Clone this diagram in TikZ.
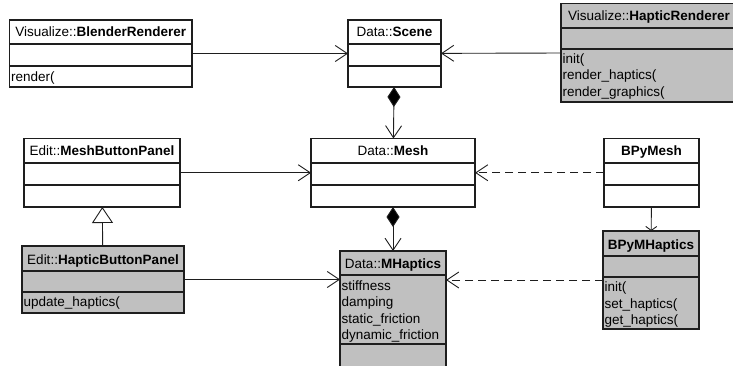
\documentclass[tikz,border=0pt]{standalone}
\usepackage{fontspec}
\setmainfont{Liberation Sans}
\usetikzlibrary{arrows.meta,fit}

\definecolor{classgray}{RGB}{192,192,192}
\definecolor{inkline}{RGB}{30,30,30}

\tikzset{
  frame/.style={draw=inkline, line width=1.1pt, inner sep=0pt, outer sep=0pt},
  divider/.style={draw=inkline, line width=1.1pt},
  classname/.style={anchor=base, inner sep=0pt, font=\fontsize{13.5}{16}\selectfont},
  member/.style={anchor=base west, inner sep=0pt, font=\fontsize{13.5}{16}\selectfont},
  link/.style={draw=inkline, line width=0.9pt},
  navigable/.style={-{Straight Barb[length=12pt,width=16pt,line width=0.9pt]}},
  smallnav/.style={-{Straight Barb[length=4pt,width=11pt,line width=0.9pt]}},
  composite/.style={{Diamond[length=20pt,width=13pt,fill=black]}-{Straight Barb[length=12pt,width=16pt,line width=0.9pt]}},
  generalizes/.style={-{Triangle[open,length=16pt,width=21pt,fill=white,line width=0.9pt]}},
  depends/.style={dash pattern=on 8pt off 5pt},
}

% class frame: name, left, top, right, bottom, first rule, second rule, fill
\newcommand\umlbox[8]{%
  \node[frame, fill=#8, fit={(#2,#3) (#4,#5)}] (#1) {};
  \draw[divider] (#2,#6) -- (#4,#6) (#2,#7) -- (#4,#7);
}

\begin{document}
\begin{tikzpicture}[x=1pt, y=-1pt]
\useasboundingbox (0,0) rectangle (733,366);

% class frames
\umlbox{blender}{9.5}{20}{192}{87}{44}{66}{white}
\umlbox{scene}{348}{20}{441}{87}{44}{66}{white}
\umlbox{hrend}{561}{3.5}{737}{102}{28}{49}{classgray}
\umlbox{mbp}{24}{138.5}{180}{207}{163}{185}{white}
\umlbox{mesh}{311}{138.5}{475}{207}{163}{185}{white}
\umlbox{bpymesh}{604}{138.5}{699}{207}{163}{185}{white}
\umlbox{hbp}{22}{246}{184}{313}{271}{292}{classgray}
\umlbox{mhap}{340}{251}{446}{372}{275}{344}{classgray}
\umlbox{bpymh}{603}{231}{699}{329}{256}{277}{classgray}

% class names
\node[classname] (blender-name) at (100.75,36.5) {Visualize::\textbf{BlenderRenderer}};
\node[classname] (scene-name) at (394.5,36.7) {Data::\textbf{Scene}};
\node[classname] (hrend-name) at (649,21) {Visualize::\textbf{HapticRenderer}};
\node[classname] (mbp-name) at (102,156) {Edit::\textbf{MeshButtonPanel}};
\node[classname] (mesh-name) at (393,156) {Data::\textbf{Mesh}};
\node[classname] (bpymesh-name) at (651.5,156) {\textbf{BPyMesh}};
\node[classname] (hbp-name) at (103,264) {Edit::\textbf{HapticButtonPanel}};
\node[classname] (mhap-name) at (393,268) {Data::\textbf{MHaptics}};
\node[classname] (bpymh-name) at (651,249) {\textbf{BPyMHaptics}};

% members
\node[member] (blender-op1) at (11,81.3) {render(};
\node[member] (hrend-op1) at (562.5,63.5) {init(};
\node[member] (hrend-op2) at (562.5,79.8) {render\_haptics(};
\node[member] (hrend-op3) at (562.5,96.1) {render\_graphics(};
\node[member] (hbp-op1) at (23.5,306.7) {update\_haptics(};
\node[member] (mhap-at1) at (341.5,290) {stiffness};
\node[member] (mhap-at2) at (341.5,306.5) {damping};
\node[member] (mhap-at3) at (341.5,323) {static\_friction};
\node[member] (mhap-at4) at (341.5,339.5) {dynamic\_friction};
\node[member] (bpymh-op1) at (604.5,291.7) {init(};
\node[member] (bpymh-op2) at (604.5,308) {set\_haptics(};
\node[member] (bpymh-op3) at (604.5,324.3) {get\_haptics(};

% associations
\draw[link, navigable] (blender) -- (scene);
\draw[link, navigable] (hrend) -- (scene);
\draw[link, navigable] (mbp) -- (mesh);
\draw[link, navigable, depends] (bpymesh) -- (mesh);
\draw[link, navigable] (hbp.east) -- (hbp.east -| mhap.west);
\draw[link, navigable, depends] (bpymh.west) -- (bpymh.west -| mhap.east);
\draw[link, smallnav] (bpymesh) -- (bpymh);

% compositions
\draw[link, composite] (scene) -- (mesh);
\draw[link, composite] (mesh) -- (mhap);

% generalization
\draw[link, generalizes] (hbp) -- (mbp);
\end{tikzpicture}
\end{document}
